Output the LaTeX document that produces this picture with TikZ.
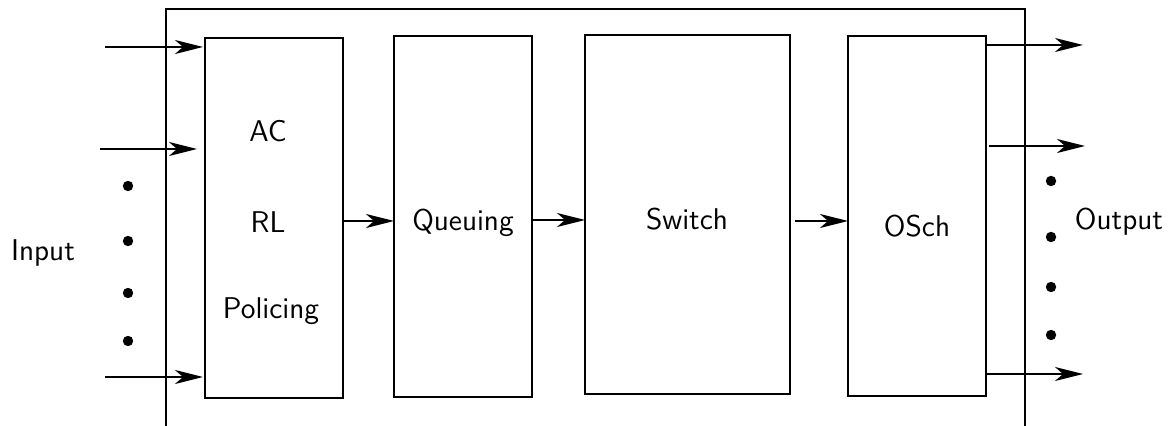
\documentclass[tikz,border=0pt]{standalone}
\usetikzlibrary{arrows.meta}
\begin{document}
\begin{tikzpicture}[x=0.5pt,y=-0.5pt,
  line width=1pt,
  blk/.style={draw,line width=1pt,inner sep=0pt,outer sep=0pt},
  lbl/.style={font=\sffamily\fontsize{15}{18}\selectfont,inner sep=0pt},
  arr/.style={-{Stealth[length=14pt,width=7pt,inset=4pt]},line width=1pt},
  dot/.style={circle,fill=black,inner sep=0pt,minimum size=5.2pt}]
\useasboundingbox (0,0) rectangle (1176,426);
% outer frame, open at the bottom
\draw[line width=1pt] (166,426) -- (166,9) -- (1025,9) -- (1025,426);
% blocks
\node[blk,minimum width=69pt,minimum height=180pt] (b1) at (274,218) {};
\node[blk,minimum width=69pt,minimum height=180.5pt] (b2) at (463,216.5) {};
\node[blk,minimum width=102.5pt,minimum height=179.5pt] (b3) at (687.5,214.5) {};
\node[blk,minimum width=69pt,minimum height=180pt] (b4) at (917,216) {};
% labels
\node[lbl] (tac) at (268,131) {AC};
\node[lbl] (trl) at (268,222) {RL};
\node[lbl] (tpol) at (271,311) {Policing};
\node[lbl] (tq) at (463,223) {Queuing};
\node[lbl] (tsw) at (687,219) {Switch};
\node[lbl] (tos) at (917,226) {OSch};
\node[lbl] (tin) at (43,253) {Input};
\node[lbl] (tout) at (1119,222) {Output};
% input arrows
\coordinate (i1) at (105,47);
\coordinate (i2) at (100,149);
\coordinate (i3) at (105,377);
\draw[arr,shorten >=1pt] (i1) -- (i1 -| b1.west);
\draw[arr,shorten >=4pt] (i2) -- (i2 -| b1.west);
\draw[arr,shorten >=1pt] (i3) -- (i3 -| b1.west);
% output arrows
\coordinate (o1) at (1083,45);
\coordinate (o2) at (1085,146);
\coordinate (o3) at (1083,374);
\draw[arr] (o1 -| b4.east) -- (o1);
\draw[arr,shorten <=1.5pt] (o2 -| b4.east) -- (o2);
\draw[arr] (o3 -| b4.east) -- (o3);
% middle arrows
\coordinate (m1) at (0,221);
\coordinate (m2) at (0,220);
\coordinate (m3) at (0,221);
\draw[arr] (m1 -| b1.east) -- (m1 -| b2.west);
\draw[arr] (m2 -| b2.east) -- (m2 -| b3.west);
\draw[arr,shorten <=2.5pt] (m3 -| b3.east) -- (m3 -| b4.west);
% dots
\node[dot] (dl1) at (128,186) {};
\node[dot] (dl2) at (128,241) {};
\node[dot] (dl3) at (128,293) {};
\node[dot] (dl4) at (128,341) {};
\node[dot] (dr1) at (1051,181) {};
\node[dot] (dr2) at (1051,237) {};
\node[dot] (dr3) at (1051,287) {};
\node[dot] (dr4) at (1051,335) {};
\end{tikzpicture}
\end{document}
